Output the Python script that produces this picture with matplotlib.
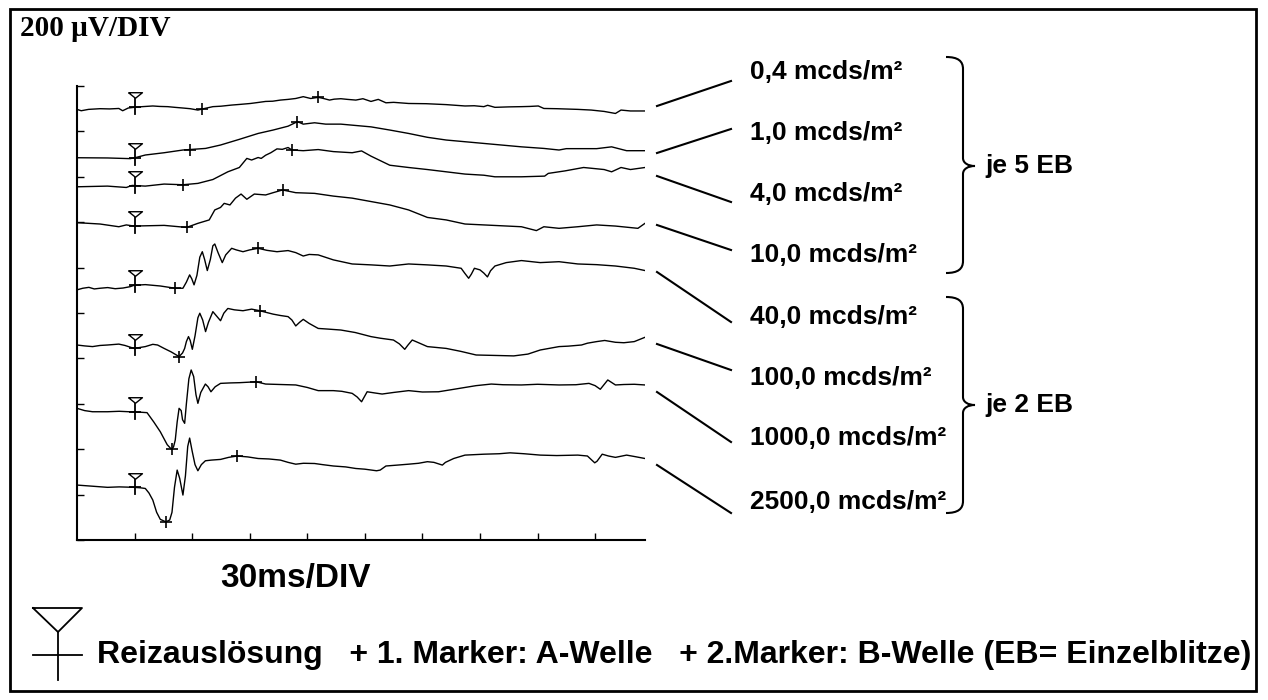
import numpy as np
import matplotlib
matplotlib.use("Agg")
import matplotlib.pyplot as plt
from matplotlib.path import Path
from matplotlib.patches import PathPatch, Rectangle

plt.rcParams['font.family'] = ['Liberation Sans', 'DejaVu Sans']

# ERG traces, time in ms, amplitude in uV relative to each trace's baseline
labels = ["0,4 mcds/m²", "1,0 mcds/m²", "4,0 mcds/m²", "10,0 mcds/m²",
          "40,0 mcds/m²", "100,0 mcds/m²", "1000,0 mcds/m²", "2500,0 mcds/m²"]
baselines = [1897, 1684, 1556, 1398, 1106, 859, 580, 242]

t_04 = [0, 2.2, 6, 12, 17, 21.8, 23.8, 26.7, 29.7, 34, 39.5, 43, 47.3, 51, 55.2, 59, 63, 66, 70.8, 75,
        80.6, 85, 90.4, 94, 98.3, 102, 106, 110, 114, 117.9, 121.8, 125.7, 128, 131.6, 134, 137.5, 141,
        145.3, 149, 153.2, 157, 161, 165, 172.8, 182, 192.4, 202.2, 207, 212, 214, 217.8, 225, 231.6, 236,
        240.4, 243.3, 250, 261, 268, 274.7, 280.6, 283.5, 288.4, 296]
v_04 = [0, -6, 0, 3, 2, 4, -6, 6, 9, 12, 15, 13, 12, 9, 6, 3, -3, 3, 12, 14, 19, 22, 26, 30, 35, 36, 41,
        44, 48, 56, 48, 53, 49, 41, 45, 47, 44, 41, 47, 35, 44, 29, 31, 26, 25, 21, 15, 16, 12, 18, 9, 11,
        12, 13, 15, 4, 3, 0, -3, -9, -18, -3, -7, -7]

t_1 = [0, 15.9, 27.7, 30.7, 35.6, 45.4, 55.2, 67, 74.8, 84.6, 94.4, 102.2, 110, 114.9, 117.9, 123.8,
       129.6, 137.5, 153.2, 163, 172.8, 182.6, 192.4, 212, 231.6, 243.3, 251.2, 255, 270.8, 278.6, 286.4, 296]
v_1 = [0, -1, -4, 1, 12, 22, 34, 41, 56, 81, 107, 122, 139, 159, 148, 154, 148, 148, 136, 122, 107, 90,
       78, 63, 48, 41, 34, 40, 40, 48, 31, 31]

t_4 = [0, 15.9, 25.7, 28.7, 35.6, 45.4, 55.2, 63, 70.8, 78.6, 84.6, 88.5, 91, 94.4, 96, 98.3, 101, 104.2,
       107, 110, 112, 117.9, 125.7, 133.6, 143.4, 148.3, 153.2, 163, 172.8, 182.6, 192.4, 202.2, 212, 217.8,
       231.6, 243.7, 245.6, 254.3, 264, 274.7, 278.6, 283.5, 288.4, 296]
v_4 = [0, 3, -3, 6, 3, 12, 9, 15, 32, 66, 85, 125, 118, 129, 125, 139, 150, 167, 165, 173, 162, 159, 164,
       155, 150, 158, 135, 95, 85, 76, 66, 56, 51, 44, 44, 47, 59, 70, 85, 76, 66, 85, 76, 85]

t_10 = [0, 12, 21.8, 25.7, 29.7, 45.4, 57.1, 63, 68.9, 71.8, 74.8, 76.7, 79.7, 82.6, 85.5, 88.5, 92.4,
        98.3, 102.2, 107.1, 114, 123.8, 133.6, 143.4, 153.2, 163, 172.8, 182.6, 192.4, 202.2, 212, 231.6,
        239.4, 243.3, 251.2, 261, 270.8, 280.6, 292.3, 296]
v_10 = [0, -6, -18, -10, -15, -12, -21, -3, 12, 56, 67, 85, 78, 108, 126, 103, 126, 122, 132, 144, 132,
        129, 117, 108, 93, 78, 56, 23, 12, -6, -10, -18, -35, -18, -25, -18, -10, -15, -25, -3]

t_40 = [0, 3, 6.2, 9, 12, 16, 19.9, 24, 27.7, 29.7, 35.6, 43.4, 51.2, 55.2, 57, 58.7, 59.8, 61, 62.5, 64,
        65.3, 66.5, 67.9, 69.5, 70.8, 71.8, 73.5, 75.7, 77.5, 80.6, 83, 86.5, 90, 94.4, 99, 104.2, 110, 114,
        117.9, 121, 125.7, 133.6, 143.4, 153.2, 163, 172.8, 182.6, 192.4, 200.2, 202, 204.1, 205.5, 207.1,
        210, 212, 213.9, 215.5, 217.8, 223.7, 231.6, 241.4, 251.2, 261, 270.8, 280.6, 290.4, 296]
v_40 = [-4, 3, 7, 0, 3, 6, 1, 4, 10, 16, 19, 13, 3, 3, 30, 62, 45, 18, 60, 140, 164, 130, 81, 130, 190,
        198, 160, 116, 150, 179, 172, 164, 172, 179, 170, 164, 169, 160, 145, 152, 150, 128, 110, 106, 101,
        110, 106, 101, 91, 70, 47, 65, 91, 84, 70, 53, 80, 101, 116, 125, 116, 120, 110, 107, 101, 91, 81]

t_100 = [0, 4, 8.1, 12, 15.9, 21.8, 25, 29.7, 32, 35.6, 39.5, 42, 45.4, 49, 53.2, 55, 56.1, 57, 58.1, 59,
         60.1, 61.5, 63, 64, 65.5, 67, 68.5, 70.8, 72.5, 74.8, 76.5, 78.6, 82, 86.5, 91, 95.3, 98, 102.2,
         106, 110, 112, 114, 116, 117.9, 121, 125.7, 131, 137.5, 145, 153.2, 158, 164.9, 168, 170.8, 172.5,
         174.7, 178, 182.6, 192.4, 200, 208, 218, 227.6, 235, 241.4, 251.2, 256, 262.9, 266, 270.8, 275,
         280.6, 285, 290.4, 296]
v_100 = [0, -4, -7, -2, 0, 4, -2, -15, -12, -7, 3, 0, -15, -30, -51, -35, -15, 15, 37, 20, -19, 40, 120,
         140, 110, 59, 100, 147, 130, 107, 140, 161, 155, 151, 158, 151, 145, 136, 130, 125, 110, 84, 100,
         113, 95, 73, 70, 66, 55, 37, 30, 22, 5, -19, 0, 22, 10, -7, -15, -28, -44, -46, -48, -40, -22, -7,
         -5, 0, 8, 15, 20, 12, 10, 15, 34]

t_1000 = [0, 4, 8.1, 15.9, 22, 29.7, 33, 36.5, 40, 43.4, 47, 49.3, 50.3, 51.2, 52.2, 53.2, 54.3, 55, 56.1,
          57, 58.3, 59.5, 60.8, 62, 63, 64.5, 66.9, 68.3, 69.8, 72, 74.8, 80, 84.6, 89, 93.4, 98.3, 106, 114,
          120, 125.7, 133.6, 138, 143.4, 146, 148.3, 151.2, 155, 159, 165, 172.8, 180, 188.4, 195, 202.2,
          208, 215.9, 222, 231.6, 240, 251.2, 260, 266.8, 270, 272.7, 276.6, 280.6, 285, 290.4, 296]
v_1000 = [0, -10, -15, -15, -13, -16, -17, -19, -60, -103, -160, -181, -170, -140, -60, 0, -10, -50, -66,
          20, 130, 169, 140, 60, 22, 70, 107, 95, 73, 95, 110, 112, 113, 115, 117, 107, 105, 103, 92, 78, 78,
          75, 66, 50, 29, 73, 68, 63, 70, 78, 72, 73, 82, 92, 100, 107, 104, 103, 106, 103, 104, 110, 100,
          84, 125, 103, 105, 106, 103]

t_2500 = [0, 8, 15.9, 22, 29.7, 33, 35.6, 37.5, 39.5, 41.5, 43.4, 46.3, 48.3, 49.5, 50.8, 52.2, 53.5, 55.2,
          56.5, 57.7, 58.7, 60, 61.5, 63, 64.8, 66.9, 70, 74.8, 79, 83.5, 89, 94.4, 100, 106, 110, 114, 118,
          123.8, 128, 133.6, 140, 145.3, 150, 156.1, 158, 161, 167, 172.8, 178, 182.6, 186, 190.4, 192,
          196.3, 202.2, 212, 220, 225.7, 233, 241.4, 250, 261, 266, 269.8, 271, 273.7, 277, 280.6, 286.4,
          291, 296]
v_2500 = [0, -5, -10, -8, -10, -12, -15, -35, -66, -120, -151, -162, -154, -120, -10, 66, 30, -44, 40, 170,
          207, 150, 90, 63, 90, 107, 110, 113, 122, 128, 124, 117, 115, 110, 100, 92, 96, 95, 90, 84, 80, 73,
          70, 63, 66, 84, 88, 92, 96, 103, 100, 88, 100, 117, 132, 136, 138, 142, 138, 132, 130, 132, 128,
          98, 105, 136, 128, 122, 132, 125, 117]

stim_ms = 30
a_wave_ms = [65, 58.7, 55.2, 57.1, 51.2, 53.2, 49.3, 46.3]
b_wave_ms = [125.7, 114.9, 112, 107.1, 94.4, 95.3, 93.4, 83.5]

traces = [(t_04, v_04), (t_1, v_1), (t_4, v_4), (t_10, v_10),
          (t_40, v_40), (t_100, v_100), (t_1000, v_1000), (t_2500, v_2500)]

W, H = 1268, 700
fig = plt.figure(figsize=(W / 100, H / 100), dpi=100)

# overlay in pixel coordinates for frame, labels and braces
ov = fig.add_axes([0, 0, 1, 1])
ov.set_xlim(0, W)
ov.set_ylim(H, 0)
ov.axis('off')

ax = fig.add_axes([77 / W, 1 - 540 / H, 568 / W, 454 / H])
ax.patch.set_alpha(0)
ax.set_xlim(0, 296)
ax.set_ylim(0, 2000)
ax.set_xticks(np.arange(30, 271, 30))
ax.set_yticks(np.arange(0, 2001, 200))
ax.tick_params(direction='in', length=5, width=1, labelbottom=False, labelleft=False)
for s in ['top', 'right']:
    ax.spines[s].set_visible(False)
for s in ['left', 'bottom']:
    ax.spines[s].set_linewidth(1.5)

tri = [(-1, 0.4), (1, 0.4), (0, -0.4), (-1, 0.4)]
for (t, v), base, ta, tb in zip(traces, baselines, a_wave_ms, b_wave_ms):
    y = np.array(v) + base
    ax.plot(t, y, color='black', lw=1.0)
    ys = np.interp(stim_ms, t, y)
    ax.plot([stim_ms, stim_ms], [ys - 31, ys + 46], color='black', lw=1.3)
    ax.plot(stim_ms, ys, marker='_', ms=9, mew=1.3, color='black')
    ax.plot(stim_ms, ys + 52, marker=tri, ms=10, mfc='white', mec='black', mew=1.0)
    ax.plot(ta, np.interp(ta, t, y), marker='+', ms=8, mew=1.2, color='black')
    ax.plot(tb, np.interp(tb, t, y), marker='+', ms=8, mew=1.2, color='black')

# frame
ov.add_patch(Rectangle((10, 9), 1246, 682, fill=False, lw=2, ec='black'))

ov.text(20, 28, "200 µV/DIV", family=['Liberation Serif', 'DejaVu Serif'], fontweight='bold',
        fontsize=21, va='center', ha='left')

# intensity labels with connector lines
lab_y = [72, 133, 194, 255, 317, 378, 438, 502]
line_l = [106, 153, 176, 225, 272, 344, 392, 465]
line_r = [81, 129, 202, 250, 322, 370, 442, 513]
for lab, ly, yl, yr in zip(labels, lab_y, line_l, line_r):
    ov.plot([657, 731], [yl, yr], color='black', lw=1.5)
    ov.text(750, ly, lab, fontsize=19, fontweight='bold', va='center', ha='left')


def brace(y0, y1, ym, x_tip=946, x_sp=963, x_pt=975):
    verts = [(x_tip, y0), (x_tip + 12, y0), (x_sp, y0 + 4), (x_sp, y0 + 12),
             (x_sp, ym - 8),
             (x_sp, ym - 3), (x_pt - 7, ym), (x_pt, ym),
             (x_pt - 7, ym), (x_sp, ym + 3), (x_sp, ym + 8),
             (x_sp, y1 - 12),
             (x_sp, y1 - 4), (x_tip + 12, y1), (x_tip, y1)]
    codes = [Path.MOVETO, Path.CURVE4, Path.CURVE4, Path.CURVE4,
             Path.LINETO,
             Path.CURVE4, Path.CURVE4, Path.CURVE4,
             Path.CURVE4, Path.CURVE4, Path.CURVE4,
             Path.LINETO,
             Path.CURVE4, Path.CURVE4, Path.CURVE4]
    ov.add_patch(PathPatch(Path(verts, codes), fill=False, lw=1.5, ec='black'))


brace(57, 273, 166)
brace(297, 513, 405)
ov.text(985, 166, "je 5 EB", fontsize=19, fontweight='bold', va='center', ha='left')
ov.text(985, 405, "je 2 EB", fontsize=19, fontweight='bold', va='center', ha='left')

ov.text(295, 578, "30ms/DIV", fontsize=24, fontweight='bold', va='center', ha='center')

# legend symbol for stimulus
ov.plot([33, 82, 58, 33], [608, 608, 632, 608], color='black', lw=1.3)
ov.plot([58, 58], [632, 680], color='black', lw=1.3)
ov.plot([33, 82], [655, 655], color='black', lw=1.3)
ov.text(97, 655, "Reizauslösung   + 1. Marker: A-Welle   + 2.Marker: B-Welle (EB= Einzelblitze)",
        fontsize=23, fontweight='bold', va='center', ha='left')

fig.savefig("out.png", dpi=100)
